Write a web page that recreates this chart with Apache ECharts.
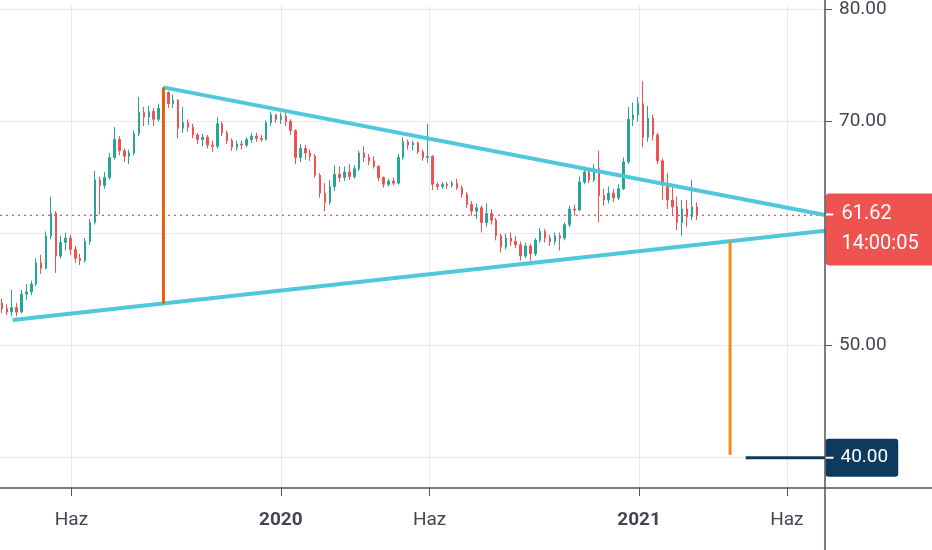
<!DOCTYPE html>
<html><head><meta charset="utf-8">
<script src="https://cdn.jsdelivr.net/npm/echarts@6/dist/echarts.min.js"></script>
<style>html,body{margin:0;padding:0;background:#fff}#c{width:932px;height:550px}</style>
</head><body><div id="c"></div>
<script>
// ---- axis range (calendar days) ----
const axisStart = '2019-03-20';
const axisEnd = '2021-07-10';
const monthNames = { '06': 'Haz' };

// ---- candles: one bar per 5 calendar days starting at candleStart ----
const candleStart = '2019-03-22';
const candleStepDays = 5;
const opens = [53.8,53.3,53.0,53.4,53.0,54.6,54.8,55.5,57.4,56.9,
59.8,61.8,58.0,59.2,59.6,58.6,57.8,57.6,59.3,61.0,
64.8,64.3,65.0,66.8,68.4,67.4,66.9,67.2,68.9,70.8,
70.4,70.9,70.2,71.2,72.6,71.6,71.9,69.4,69.9,69.5,
68.8,68.4,68.6,67.9,67.8,69.8,69.0,68.3,67.7,68.0,
67.9,68.4,68.7,68.5,68.4,69.9,70.6,70.2,70.5,70.0,
69.2,66.8,67.6,67.2,66.9,65.2,63.6,62.8,64.2,65.3,
65.0,65.5,65.1,65.8,67.2,66.8,66.5,66.0,65.0,64.4,
64.7,64.5,66.8,68.2,67.9,68.1,67.3,66.8,66.9,64.4,
64.2,64.4,64.3,64.5,64.1,63.5,62.6,62.0,62.3,61.0,
61.8,61.2,59.8,58.8,59.6,59.3,59.0,58.0,58.9,58.2,
59.4,60.2,59.6,59.3,59.8,59.6,60.8,62.2,62.1,64.6,
65.5,64.8,65.8,63.4,63.0,63.6,63.2,64.0,66.4,70.2,
70.6,71.6,68.6,70.3,68.8,66.5,64.5,63.0,62.4,61.0,
62.2,61.5,62.4];
const closes = [53.3,53.0,53.4,53.0,54.6,54.8,55.5,57.4,56.9,59.8,
61.8,58.0,59.2,59.6,58.6,57.8,57.6,59.3,61.0,64.8,
64.3,65.0,66.8,68.4,67.4,66.9,67.2,68.9,70.8,70.4,
70.9,70.2,71.2,72.6,71.6,71.9,69.4,69.9,69.5,68.8,
68.4,68.6,67.9,67.8,69.8,69.0,68.3,67.7,68.0,67.9,
68.4,68.7,68.5,68.4,69.9,70.6,70.2,70.5,70.0,69.2,
66.8,67.6,67.2,66.9,65.2,63.6,62.8,64.2,65.3,65.0,
65.5,65.1,65.8,67.2,66.8,66.5,66.0,65.0,64.4,64.7,
64.5,66.8,68.2,67.9,68.1,67.3,66.8,66.9,64.4,64.2,
64.4,64.3,64.5,64.1,63.5,62.6,62.0,62.3,61.0,61.8,
61.2,59.8,58.8,59.6,59.3,59.0,58.0,58.9,58.2,59.4,
60.2,59.6,59.3,59.8,59.6,60.8,62.2,62.1,64.6,65.5,
64.8,65.8,63.4,63.0,63.6,63.2,64.0,66.4,70.2,70.6,
71.6,68.6,70.3,68.8,66.5,64.5,63.0,62.4,61.0,62.2,
61.5,62.4,61.62];
const lows = [52.9,52.7,52.6,52.6,52.9,54.1,54.5,55.3,56.4,56.8,
59.5,56.5,57.8,58.5,58.1,57.4,57.2,57.4,59.0,60.8,
61.7,64.0,64.8,66.6,67.0,66.4,66.2,67.0,68.7,69.6,
69.7,69.6,70.0,71.0,71.2,71.2,68.5,69.0,69.1,68.5,
68.0,67.8,67.6,67.3,67.6,68.7,68.0,67.4,67.4,67.5,
67.7,68.1,68.2,68.2,68.3,69.6,69.9,69.8,69.6,68.8,
66.2,66.4,66.6,66.5,65.0,63.2,62.0,62.6,63.8,64.6,
64.7,64.8,64.9,65.6,66.4,66.1,65.8,64.7,64.1,64.2,
64.3,64.4,66.6,67.5,67.4,67.1,66.5,66.3,63.9,63.9,
64.0,64.0,64.1,63.9,63.2,62.3,61.6,61.3,60.1,60.6,
60.8,59.4,58.3,58.6,58.9,58.7,57.6,57.8,57.6,58.0,
59.2,59.2,58.9,59.0,58.5,59.4,60.6,61.6,62.0,64.4,
64.5,64.6,61.0,62.5,62.7,62.8,63.0,63.9,66.2,69.6,
70.0,67.7,68.2,68.3,66.2,63.0,62.2,61.6,60.3,59.8,
60.6,61.2,61.2];
const highs = [54.2,53.7,55.0,53.8,55.0,55.5,55.8,57.8,58.1,60.2,
63.3,62.0,59.8,60.1,59.9,58.9,58.2,59.6,61.3,65.6,
65.1,65.5,67.2,69.5,68.7,67.6,67.5,69.2,72.2,71.3,
71.4,71.2,71.6,73.1,72.7,72.4,72.0,71.3,70.2,69.8,
69.0,68.9,68.8,68.3,70.4,70.0,69.2,68.5,68.3,68.3,
68.6,69.0,69.0,68.8,70.1,70.9,70.7,70.8,70.8,70.2,
69.3,68.0,67.9,67.5,67.1,65.4,64.5,64.8,66.1,66.0,
66.0,66.2,66.1,67.4,67.8,67.1,66.9,66.1,65.1,64.9,
65.0,67.1,68.6,68.4,68.3,68.2,67.5,69.8,67.0,64.6,
64.6,64.6,64.7,64.9,64.3,63.7,62.9,62.7,62.5,62.7,
62.2,61.4,60.0,60.0,60.1,59.8,59.3,59.2,59.1,59.6,
60.5,60.4,59.9,60.1,60.1,61.0,62.5,62.6,65.1,66.0,
65.6,66.2,67.4,64.0,64.2,64.0,64.4,66.8,71.3,71.7,
72.2,73.6,71.4,70.6,69.0,66.7,65.4,64.2,63.3,63.0,
63.0,64.8,62.8];

// ---- last price / countdown ----
const lastPrice = 61.62;
const countdown = '14:00:05';

// ---- drawings ----
const upperTrend = [['2019-09-03', 73.05], ['2021-07-10', 61.66]];
const lowerTrend = [['2019-04-02', 52.30], ['2021-07-10', 60.25]];
const measure1 = [['2019-09-03', 73.05], ['2019-09-03', 53.75]];
const measure2 = [['2021-04-04', 59.28], ['2021-04-04', 40.26]];
const targetPrice = 40;
const targetLine = [['2021-04-20', targetPrice], ['2021-07-10', targetPrice]];

// ---- value axis range ----
const yMin = 37.3, yMax = 80.37;

// ---- helpers ----
function addDays(s, n) {
  const d = new Date(s + 'T00:00:00Z');
  d.setUTCDate(d.getUTCDate() + n);
  return d.toISOString().slice(0, 10);
}
const categories = [];
for (let d = axisStart; d <= axisEnd; d = addDays(d, 1)) categories.push(d);
const isTick = v => v.endsWith('-06-01') || v.endsWith('-01-01');
const candleData = opens.map((o, i) => [addDays(candleStart, i * candleStepDays), o, closes[i], lows[i], highs[i]]);
const priceLine = [[axisStart, lastPrice], [axisEnd, lastPrice]];

const W = 932, H = 550, gridRight = 107, gridBottom = 62;
const FONT = 'Roboto, sans-serif';
const TXT = '#434651', GRID = '#e6e9ef', FRAME = '#50535e';
const UP = '#26a69a', DOWN = '#ef5350', NAVY = '#0d3a5e';

const chart = echarts.init(document.getElementById('c'), null, { renderer: 'canvas' });
chart.setOption({
  animation: false,
  backgroundColor: '#fff',
  grid: { left: 0, right: gridRight, top: 0, bottom: gridBottom, containLabel: false },
  xAxis: {
    type: 'category', data: categories, boundaryGap: false,
    axisLine: { show: false },
    axisTick: { show: true, interval: (i, v) => isTick(v), length: 8, lineStyle: { color: FRAME, width: 1 } },
    axisLabel: {
      interval: (i, v) => isTick(v), margin: 23, fontFamily: FONT, fontSize: 19, color: TXT,
      formatter: v => v.endsWith('-01-01') ? '{b|' + v.slice(0, 4) + '}' : monthNames[v.slice(5, 7)],
      rich: { b: { fontWeight: 'bold', fontFamily: FONT, fontSize: 19, color: TXT } }
    },
    splitLine: { show: true, interval: (i, v) => isTick(v), lineStyle: { color: GRID, width: 1 } }
  },
  yAxis: {
    type: 'value', position: 'right', min: yMin, max: yMax, splitNumber: 4, scale: true,
    axisLine: { show: false },
    axisTick: { show: true, length: 7, lineStyle: { color: FRAME } },
    axisLabel: { margin: 14, fontFamily: FONT, fontSize: 19, color: TXT, showMinLabel: false, showMaxLabel: false,
      formatter: v => v.toFixed(2) },
    splitLine: { show: true, showMinLine: false, showMaxLine: false, lineStyle: { color: GRID, width: 1 } }
  },
  series: [
    {
      type: 'line', data: priceLine, symbol: 'none', z: 1, silent: true,
      lineStyle: { color: DOWN, type: [2, 4], width: 1.2 }
    },
    {
      type: 'candlestick', data: candleData, encode: { x: 0, y: [1, 2, 3, 4] }, barWidth: 2, z: 2,
      itemStyle: { color: UP, color0: DOWN, borderColor: UP, borderColor0: DOWN, borderWidth: 1 }
    },
    { type: 'line', data: upperTrend, symbol: 'none', z: 4, lineStyle: { color: '#50c8dc', width: 4 } },
    { type: 'line', data: lowerTrend, symbol: 'none', z: 4, lineStyle: { color: '#50c8dc', width: 4 } },
    { type: 'line', data: measure1, symbol: 'none', z: 4, lineStyle: { color: '#e4600e', width: 3 } },
    { type: 'line', data: measure2, symbol: 'none', z: 4, lineStyle: { color: '#f28b12', width: 3 } },
    { type: 'line', data: targetLine, symbol: 'none', z: 4, lineStyle: { color: NAVY, width: 3 } },
    {
      type: 'scatter', data: [[axisEnd, lastPrice]], symbolSize: 1, itemStyle: { color: 'rgba(0,0,0,0)', opacity: 1 }, z: 10, clip: false,
      label: {
        show: true, position: 'right', distance: 0, offset: [0, 14],
        formatter: () => '{d|}{a|' + lastPrice.toFixed(2) + '}\n{s|}{a|' + countdown + '}',
        backgroundColor: DOWN, borderRadius: 4, padding: [6, 17, 6, 0],
        rich: {
          d: { width: 8, height: 2, backgroundColor: '#fff' },
          s: { width: 8, height: 2 },
          a: { fontFamily: FONT, fontSize: 20, lineHeight: 30, color: '#fff', padding: [0, 0, 0, 8] }
        }
      }
    },
    {
      type: 'scatter', data: [[axisEnd, targetPrice]], symbolSize: 1, itemStyle: { color: 'rgba(0,0,0,0)', opacity: 1 }, z: 10, clip: false,
      label: {
        show: true, position: 'right', distance: 0,
        formatter: () => '{d|}{a|' + targetPrice.toFixed(2) + '}',
        backgroundColor: NAVY, borderRadius: 3, padding: [5, 10, 5, 0],
        rich: {
          d: { width: 8, height: 2, backgroundColor: '#fff' },
          a: { fontFamily: FONT, fontSize: 19, lineHeight: 28, color: '#fff', padding: [0, 0, 0, 7] }
        }
      }
    }
  ],
  graphic: [
    { type: 'line', z: 50, silent: true, shape: { x1: W - gridRight, y1: 0, x2: W - gridRight, y2: H }, style: { stroke: FRAME, lineWidth: 1.5 } },
    { type: 'line', z: 50, silent: true, shape: { x1: 0, y1: H - gridBottom, x2: W, y2: H - gridBottom }, style: { stroke: FRAME, lineWidth: 1.5 } }
  ]
});
</script>
</body></html>
